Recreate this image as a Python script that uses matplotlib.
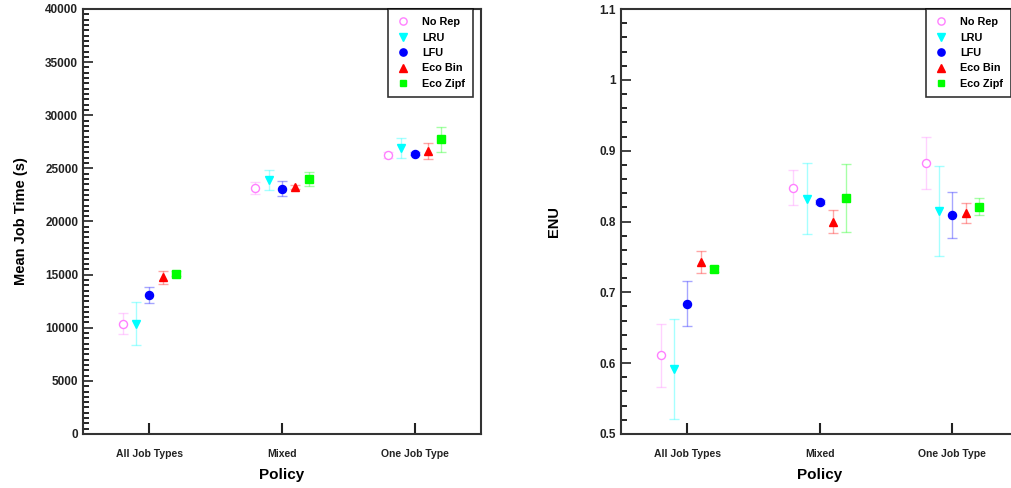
import matplotlib.pyplot as plt
import numpy as np

plt.rcParams['font.family'] = ['Liberation Sans', 'DejaVu Sans']
plt.rcParams['font.weight'] = 'bold'

policies = ['All Job Types', 'Mixed', 'One Job Type']
series = ['No Rep', 'LRU', 'LFU', 'Eco Bin', 'Eco Zipf']

# mean job time (s) and error per series, one value per policy
time_mean = {
    'No Rep': [10400, 23180, 26230],
    'LRU': [10400, 23900, 26950],
    'LFU': [13100, 23100, 26380],
    'Eco Bin': [14750, 23250, 26640],
    'Eco Zipf': [15100, 23970, 27730],
}
time_err = {
    'No Rep': [1000, 550, 300],
    'LRU': [2000, 970, 930],
    'LFU': [770, 680, 150],
    'Eco Bin': [620, 200, 740],
    'Eco Zipf': [200, 650, 1200],
}
enu_mean = {
    'No Rep': [0.611, 0.848, 0.883],
    'LRU': [0.592, 0.832, 0.815],
    'LFU': [0.684, 0.8275, 0.809],
    'Eco Bin': [0.743, 0.800, 0.8125],
    'Eco Zipf': [0.7325, 0.833, 0.821],
}
enu_err = {
    'No Rep': [0.045, 0.025, 0.037],
    'LRU': [0.071, 0.050, 0.063],
    'LFU': [0.032, 0.003, 0.032],
    'Eco Bin': [0.015, 0.016, 0.014],
    'Eco Zipf': [0.004, 0.048, 0.012],
}

styles = {
    'No Rep': dict(marker='o', color='#ff80ff', mfc='white'),
    'LRU': dict(marker='v', color='#00ffff', mfc='#00ffff'),
    'LFU': dict(marker='o', color='#0000ff', mfc='#0000ff'),
    'Eco Bin': dict(marker='^', color='#ff0000', mfc='#ff0000'),
    'Eco Zipf': dict(marker='s', color='#00ff00', mfc='#00ff00'),
}
offsets = [-0.2, -0.1, 0.0, 0.1, 0.2]

fig = plt.figure(figsize=(10.11, 4.88), dpi=100)
ax1 = fig.add_axes([83 / 1011, 54 / 488, 398 / 1011, 425 / 488])
ax2 = fig.add_axes([621 / 1011, 54 / 488, 397.5 / 1011, 425 / 488])

x = np.arange(1, len(policies) + 1)


def draw(ax, means, errs, leg_x):
    for off, name in zip(offsets, series):
        st = styles[name]
        ax.errorbar(x + off, means[name], yerr=errs[name], fmt='none',
                    ecolor=st['color'], alpha=0.35, elinewidth=1, capsize=3.5, capthick=1)
        ax.plot(x + off, means[name], linestyle='none', marker=st['marker'],
                color=st['color'], mfc=st['mfc'], mec=st['color'], mew=1,
                markersize=5.8 if st['marker'] != 's' else 5.3, label=name)
    ax.set_xlim(0.5, 3.5)
    ax.set_xticks(x)
    ax.set_xticklabels(policies, fontsize=7.5, fontweight='bold')
    ax.tick_params(axis='x', direction='in', length=8, width=1.5, pad=11)
    ax.tick_params(axis='y', which='major', direction='in', length=7, width=1.2, labelsize=8.5)
    ax.tick_params(axis='y', which='minor', direction='in', length=4, width=1.2)
    ax.tick_params(axis='both', colors='#222222')
    for sp in ax.spines.values():
        sp.set_linewidth(1.5)
        sp.set_color('#333333')
    ax.set_xlabel('Policy', fontsize=11, fontweight='bold', labelpad=6)
    leg = ax.legend(loc='upper left', bbox_to_anchor=(leg_x, 1.0), borderaxespad=0,
                    fontsize=7.8, frameon=True, fancybox=False,
                    handletextpad=1.2, labelspacing=0.5, borderpad=0.75,
                    handlelength=1.2, markerscale=0.9)
    leg.get_frame().set_edgecolor('black')
    leg.get_frame().set_linewidth(1.2)
    for t in leg.get_texts():
        t.set_fontweight('bold')
    return leg


draw(ax1, time_mean, time_err, (388 - 83) / 398)
ax1.set_ylim(0, 40000)
ax1.set_yticks(np.arange(0, 40001, 5000))
ax1.set_yticks(np.arange(0, 40001, 500), minor=True)
ax1.set_ylabel('Mean Job Time (s)', fontsize=10.5, fontweight='bold', labelpad=12)

draw(ax2, enu_mean, enu_err, (926 - 621) / 397.5)
ax2.set_ylim(0.5, 1.1)
ax2.set_yticks([0.5, 0.6, 0.7, 0.8, 0.9, 1.0, 1.1])
ax2.set_yticklabels(['0.5', '0.6', '0.7', '0.8', '0.9', '1', '1.1'])
ax2.set_yticks(np.arange(0.5, 1.1001, 0.02), minor=True)
ax2.set_ylabel('ENU', fontsize=10.5, fontweight='bold', labelpad=28)

for ax in (ax1, ax2):
    for lab in ax.get_yticklabels():
        lab.set_fontweight('bold')

plt.savefig('out.png', dpi=100)
